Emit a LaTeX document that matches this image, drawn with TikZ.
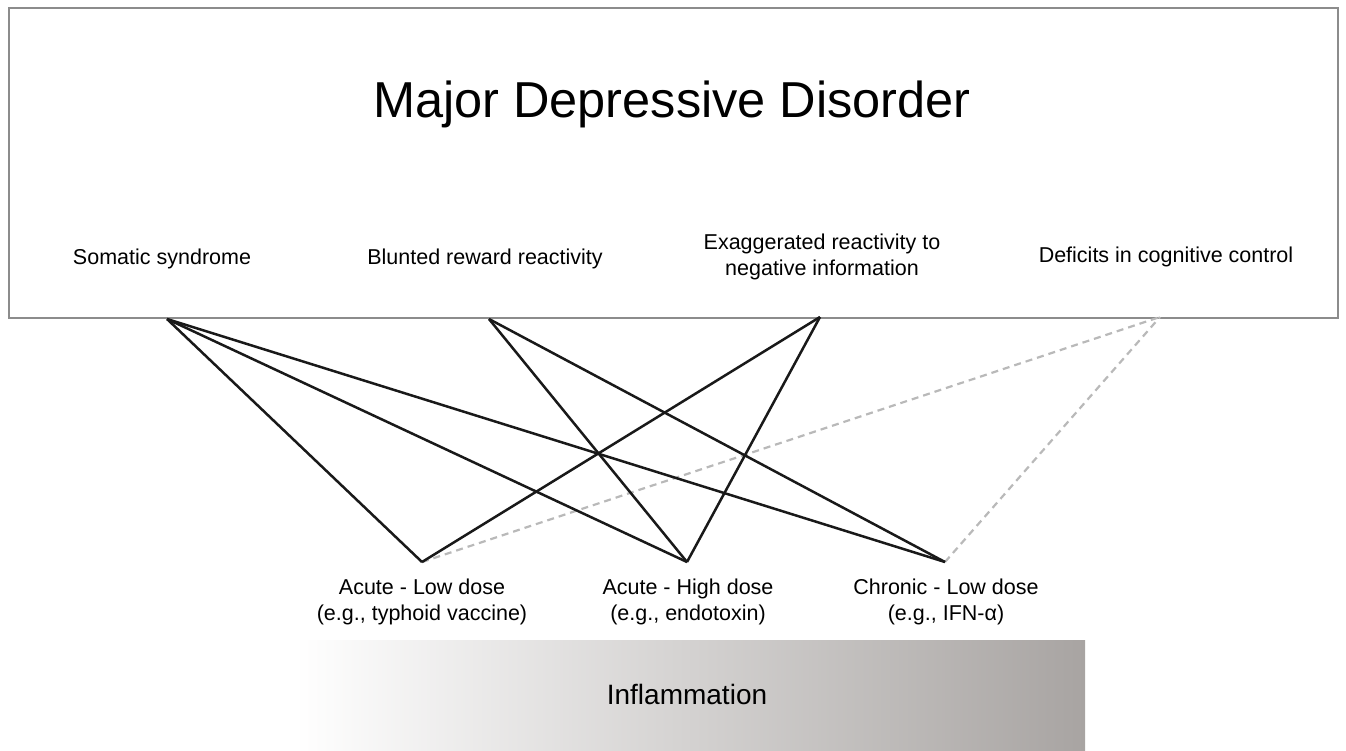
\documentclass[tikz,border=0pt]{standalone}
\usepackage{fontspec}
\setmainfont{Liberation Sans}
\definecolor{barend}{RGB}{168,164,162}
\definecolor{boxline}{RGB}{140,140,140}
\definecolor{dashgray}{RGB}{185,185,185}
\begin{document}
\begin{tikzpicture}[x=1pt,y=-1pt,
  lbl/.style={font=\fontsize{21.5}{26}\selectfont, align=center, inner sep=0pt},
  link/.style={line width=2.5pt, draw=black!90},
  weak/.style={line width=2.2pt, draw=dashgray, dashed, dash pattern=on 7pt off 5pt}]
\useasboundingbox (0,0) rectangle (1346,750);
% main box
\node[draw=boxline, line width=1.8pt, minimum width=1329pt, minimum height=310pt, anchor=north west, inner sep=0pt] (mdd) at (8,7) {};
\node[font=\fontsize{50.5}{58}\selectfont, inner sep=0pt] (title) at (672,104) {Major Depressive Disorder};
% symptom labels
\node[lbl] (som) at (162,259) {Somatic syndrome};
\node[lbl] (blu) at (485,259) {Blunted reward reactivity};
\node[lbl] (exa) at (822,257) {Exaggerated reactivity to\\negative information};
\node[lbl] (def) at (1166,257) {Deficits in cognitive control};
% connection points
\coordinate (s1) at (167,319);
\coordinate (s2) at (489,319);
\coordinate (s3) at (820,317);
\coordinate (s4) at (1160,317);
\coordinate (i1) at (422,562);
\coordinate (i2) at (687,562);
\coordinate (i3) at (945,562);
% inflammation bar
\shade[left color=white, right color=barend] (295,640) rectangle (1085,750);
\node[font=\fontsize{28}{32}\selectfont, inner sep=0pt] (infl) at (687,694) {Inflammation};
% inflammation type labels
\node[lbl] (al) at (422,602) {Acute - Low dose\\(e.g., typhoid vaccine)};
\node[lbl] (ah) at (688,602) {Acute - High dose\\(e.g., endotoxin)};
\node[lbl] (cl) at (946,602) {Chronic - Low dose\\(e.g., IFN-α)};
% links
\draw[weak] (i1) -- (s4);
\draw[weak] (i3) -- (s4);
\draw[link] (s1) -- (i1);
\draw[link] (s1) -- (i2);
\draw[link] (s1) -- (i3);
\draw[link] (s2) -- (i2);
\draw[link] (s2) -- (i3);
\draw[link] (s3) -- (i1);
\draw[link] (s3) -- (i2);
\end{tikzpicture}
\end{document}
